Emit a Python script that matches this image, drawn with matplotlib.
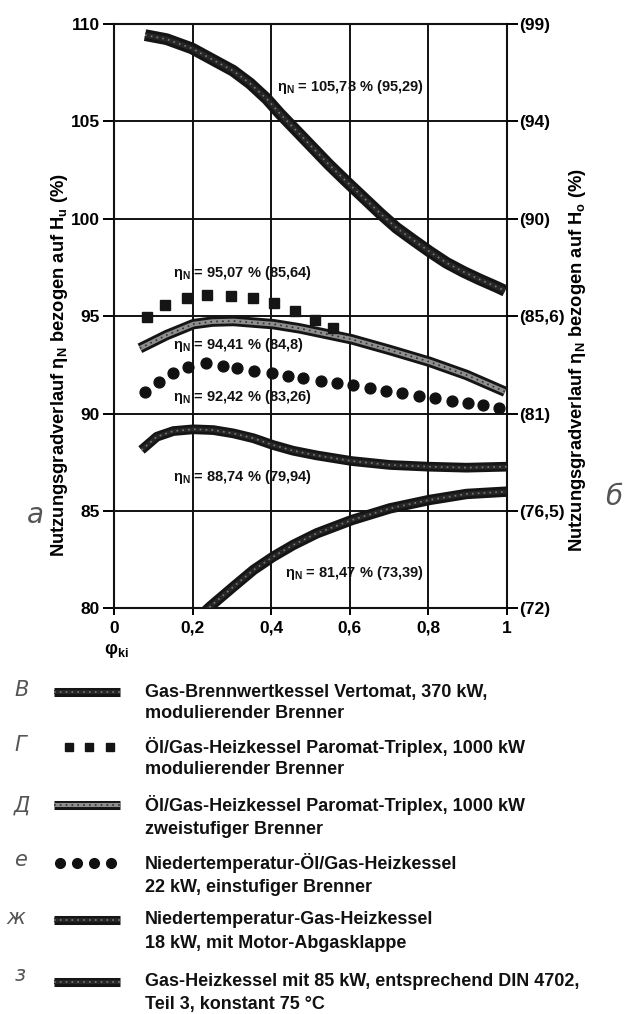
import matplotlib
matplotlib.use("Agg")
import matplotlib.pyplot as plt

plt.rcParams['font.family'] = ['Liberation Sans', 'DejaVu Sans']
plt.rcParams['font.weight'] = 'bold'
plt.rcParams['mathtext.fontset'] = 'custom'
plt.rcParams['mathtext.rm'] = 'Liberation Sans:bold'
plt.rcParams['mathtext.bf'] = 'Liberation Sans:bold'
plt.rcParams['mathtext.it'] = 'Liberation Sans:bold'

# ---------------- data ----------------
x_ticks = [0, 0.2, 0.4, 0.6, 0.8, 1]
x_ticklabels = ["0", "0,2", "0,4", "0,6", "0,8", "1"]
y_ticks = [80, 85, 90, 95, 100, 105, 110]
y_ticklabels = ["80", "85", "90", "95", "100", "105", "110"]
y_right_labels = ["(72)", "(76,5)", "(81)", "(85,6)", "(90)", "(94)", "(99)"]

# B: Gas-Brennwertkessel Vertomat
phi_B = [0.079, 0.134, 0.198, 0.261, 0.303, 0.346, 0.389, 0.422, 0.465, 0.507, 0.547, 0.592,
         0.634, 0.677, 0.719, 0.762, 0.804, 0.846, 0.889, 0.931, 0.974, 0.995]
eta_B = [109.43, 109.22, 108.75, 108.06, 107.6, 106.95, 106.15, 105.4, 104.5, 103.62, 102.78, 101.9,
         101.1, 100.28, 99.53, 98.9, 98.3, 97.74, 97.28, 96.88, 96.5, 96.3]

# G: Öl/Gas Paromat-Triplex modulierend (squares)
phi_G = [0.083, 0.130, 0.185, 0.237, 0.298, 0.353, 0.408, 0.461, 0.511, 0.557]
eta_G = [94.97, 95.57, 95.91, 96.08, 96.05, 95.91, 95.66, 95.28, 94.80, 94.39]

# D: Öl/Gas Paromat-Triplex zweistufig
phi_D = [0.066, 0.134, 0.202, 0.25, 0.304, 0.405, 0.473, 0.605, 0.702, 0.802, 0.897, 0.995]
eta_D = [93.35, 94.03, 94.59, 94.72, 94.75, 94.59, 94.37, 93.81, 93.26, 92.66, 91.98, 91.12]

# E: Niedertemperatur-Öl/Gas (dots)
phi_E = [0.079, 0.115, 0.149, 0.189, 0.234, 0.277, 0.314, 0.356, 0.401, 0.442, 0.482, 0.526,
         0.568, 0.609, 0.651, 0.692, 0.732, 0.775, 0.818, 0.859, 0.902, 0.94, 0.98]
eta_E = [91.12, 91.63, 92.10, 92.40, 92.58, 92.45, 92.32, 92.20, 92.06, 91.93, 91.81, 91.67,
         91.55, 91.46, 91.29, 91.15, 91.04, 90.91, 90.78, 90.66, 90.52, 90.44, 90.30]

# Zh: Niedertemperatur-Gas mit Motor-Abgasklappe
phi_Z = [0.070, 0.109, 0.151, 0.202, 0.253, 0.304, 0.355, 0.405, 0.456, 0.516, 0.605, 0.702, 0.802, 0.897, 0.999]
eta_Z = [88.13, 88.81, 89.10, 89.19, 89.15, 88.98, 88.73, 88.38, 88.09, 87.85, 87.56, 87.36, 87.27, 87.22, 87.27]

# Z3: Gas-Heizkessel 85 kW DIN 4702
phi_3 = [0.232, 0.244, 0.304, 0.355, 0.405, 0.456, 0.516, 0.605, 0.702, 0.802, 0.897, 0.999]
eta_3 = [79.85, 80.08, 81.11, 81.97, 82.65, 83.25, 83.85, 84.53, 85.13, 85.56, 85.87, 85.99]

annot_texts = [r"$\mathbf{\eta_N}$ = 105,78 % (95,29)",
               r"$\mathbf{\eta_N}$ = 95,07 % (85,64)",
               r"$\mathbf{\eta_N}$ = 94,41 % (84,8)",
               r"$\mathbf{\eta_N}$ = 92,42 % (83,26)",
               r"$\mathbf{\eta_N}$ = 88,74 % (79,94)",
               r"$\mathbf{\eta_N}$ = 81,47 % (73,39)"]
annot_x = [0.415, 0.151, 0.151, 0.151, 0.151, 0.435]
annot_y = [106.76, 97.2, 93.52, 90.86, 86.72, 81.8]

legend_labels = [
    ("Gas-Brennwertkessel Vertomat, 370 kW,", "modulierender Brenner"),
    ("Öl/Gas-Heizkessel Paromat-Triplex, 1000 kW", "modulierender Brenner"),
    ("Öl/Gas-Heizkessel Paromat-Triplex, 1000 kW", "zweistufiger Brenner"),
    ("Niedertemperatur-Öl/Gas-Heizkessel", "22 kW, einstufiger Brenner"),
    ("Niedertemperatur-Gas-Heizkessel", "18 kW, mit Motor-Abgasklappe"),
    ("Gas-Heizkessel mit 85 kW, entsprechend DIN 4702,", "Teil 3, konstant 75 °C"),
]
hand_letters = ["В", "Г", "Д", "е", "ж", "з"]

# ---------------- figure ----------------
W, H = 629, 1014
fig = plt.figure(figsize=(W / 100, H / 100), dpi=100)
fig.patch.set_facecolor('white')

L, R, T, B = 114, 507, 24, 608.3
ax = fig.add_axes([L / W, 1 - B / H, (R - L) / W, (B - T) / H])
ax.set_xlim(0, 1)
ax.set_ylim(80, 110)

ax.set_xticks(x_ticks)
ax.set_xticklabels(x_ticklabels, fontsize=12.5, fontweight='bold')
ax.set_yticks(y_ticks)
ax.set_yticklabels(y_ticklabels, fontsize=12.5, fontweight='bold')
ax.tick_params(axis='y', direction='out', length=8, width=1.4, pad=2)
ax.tick_params(axis='x', direction='out', length=5, width=1.4, pad=4)
ax.grid(True, color='#111111', lw=1.4)
for s in ax.spines.values():
    s.set_linewidth(1.5)
    s.set_color('#111111')

ax2 = ax.twinx()
ax2.set_ylim(80, 110)
ax2.set_yticks(y_ticks)
ax2.set_yticklabels(y_right_labels, fontsize=12.5, fontweight='bold')
ax2.tick_params(axis='y', direction='out', length=8, width=1.4, pad=1)
for s in ax2.spines.values():
    s.set_visible(False)


def band(a, x, y, lw, core, speck):
    a.plot(x, y, color='#151515', lw=lw, solid_capstyle='butt', solid_joinstyle='round', zorder=3)
    a.plot(x, y, color=core, lw=lw * 0.45, solid_capstyle='butt', solid_joinstyle='round', zorder=3.1)
    a.plot(x, y, color=speck, lw=1.2, ls=(0, (1, 2.5)), zorder=3.2)


band(ax, phi_B, eta_B, 8.5, '#262626', '#7a7a7a')
band(ax, phi_D, eta_D, 7.5, '#8e8e8e', '#303030')
band(ax, phi_Z, eta_Z, 7.0, '#262626', '#7a7a7a')
band(ax, phi_3, eta_3, 7.5, '#262626', '#7a7a7a')
ax.plot(phi_G, eta_G, ls='none', marker='s', ms=7.5, color='#151515', zorder=4)
ax.plot(phi_E, eta_E, ls='none', marker='o', ms=7.8, color='#111111', zorder=4)

for t, xx, yy in zip(annot_texts, annot_x, annot_y):
    ax.text(xx, yy, t, fontsize=10.5, fontweight='bold', ha='left', va='center', zorder=5,
            color='#111111')

# axis labels
fig.text(60 / W, 1 - 365 / H, r"Nutzungsgradverlauf $\mathbf{\eta_N}$ bezogen auf $\mathbf{H_u}$ (%)",
         rotation=90, ha='center', va='center', fontsize=13.2, fontweight='bold')
fig.text(578 / W, 1 - 360 / H, r"Nutzungsgradverlauf $\mathbf{\eta_N}$ bezogen auf $\mathbf{H_o}$ (%)",
         rotation=90, ha='center', va='center', fontsize=13.2, fontweight='bold')
fig.text(116 / W, 1 - 650 / H, r"$\mathbf{\varphi_{ki}}$", ha='center', va='center', fontsize=13)

# ---------------- legend (pixel coordinates overlay) ----------------
lg = fig.add_axes([0, 0, 1, 1], zorder=-1)
lg.set_xlim(0, W)
lg.set_ylim(H, 0)
lg.axis('off')

rows = [(692, 713), (747, 770), (805, 830), (863, 887), (920, 943), (982, 1005)]
sw_x0, sw_x1 = 54, 120
for i, (y1, y2) in enumerate(rows):
    if i == 1:
        lg.plot([69, 89, 110], [y1, y1, y1], ls='none', marker='s', ms=5.5, color='#151515')
    elif i == 3:
        lg.plot([60, 77, 94, 111], [y1, y1, y1, y1], ls='none', marker='o', ms=7, color='#111111')
    elif i == 2:
        band(lg, [sw_x0, sw_x1], [y1, y1], 6.5, '#8e8e8e', '#303030')
    else:
        band(lg, [sw_x0, sw_x1], [y1, y1], 6.5, '#262626', '#7a7a7a')
    lg.text(145, y1, legend_labels[i][0], fontsize=13, fontweight='bold', va='center', ha='left',
            color='#111111')
    lg.text(145, y2, legend_labels[i][1], fontsize=13, fontweight='bold', va='center', ha='left',
            color='#111111')

hand_pos = [(22, 690), (20, 745), (22, 806), (20, 860), (16, 918), (20, 975)]
for (hx, hy), ch in zip(hand_pos, hand_letters):
    lg.text(hx, hy, ch, fontsize=15, fontweight='light', fontstyle='italic', color='#555555',
            ha='center', va='center', family=['DejaVu Sans'])
lg.text(35, 515, "а", fontsize=20, fontweight='light', fontstyle='italic', color='#555555',
        ha='center', va='center', family=['DejaVu Sans'])
lg.text(614, 497, "б", fontsize=20, fontweight='light', fontstyle='italic', color='#555555',
        ha='center', va='center', family=['DejaVu Sans'])

fig.savefig("out.png", dpi=100, facecolor='white')
